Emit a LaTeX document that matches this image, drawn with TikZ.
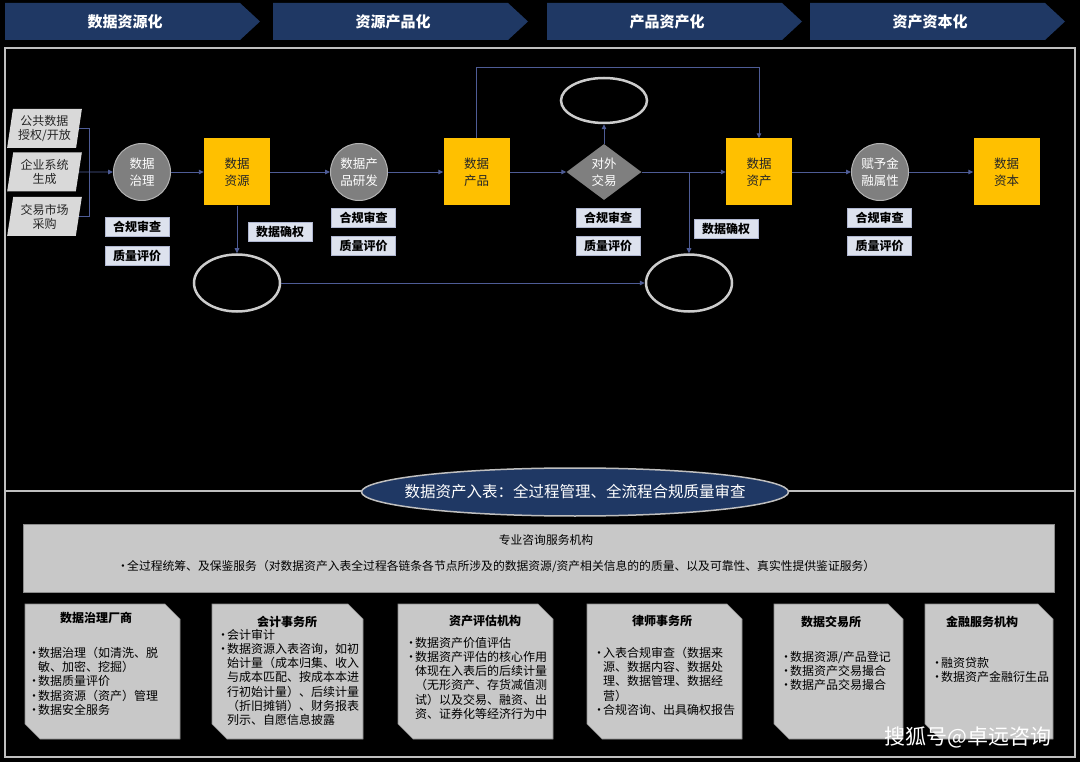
\documentclass[tikz,border=0pt]{standalone}
\usepackage{fontspec}
\setmainfont{Noto Sans CJK SC}
\usepackage{tikz}
\usetikzlibrary{arrows.meta,positioning,calc,shapes.geometric}

\definecolor{bannerblau}{RGB}{31,56,100}
\definecolor{rahmen}{RGB}{191,191,191}
\definecolor{gelb}{RGB}{255,192,0}
\definecolor{kreisgrau}{RGB}{127,127,127}
\definecolor{etikett}{RGB}{221,226,238}
\definecolor{linie}{RGB}{78,92,150}
\definecolor{eingang}{RGB}{217,217,217}
\definecolor{kastengrau}{RGB}{200,200,200}

\newcommand{\bul}{\makebox[10pt][l]{\textbullet}}
\newcommand{\einr}{\hspace*{10pt}}

\begin{document}
\begin{tikzpicture}[x=1pt, y=-1pt,
        every node/.style={font=\fontsize{12}{14.2}\selectfont},
        bannertext/.style={font=\fontsize{15}{18}\selectfont\bfseries, text=white},
        rahmenlinie/.style={draw=rahmen, line width=2.5pt},
        flow/.style={draw=linie, line width=0.9pt},
        flowpfeil/.style={flow, -{Triangle[length=5pt,width=4.5pt]}},
        eingabe/.style={trapezium, trapezium left angle=80, trapezium right angle=100,
          trapezium stretches=true, minimum width=75pt, minimum height=39pt,
          fill=eingang, inner sep=1pt, align=center, text=black!85},
        prozess/.style={circle, fill=kreisgrau, draw=kreisgrau!60!white, line width=1pt,
          minimum size=57pt, inner sep=0pt, align=center, text=white,
          font=\fontsize{12.5}{17}\selectfont},
        objekt/.style={rectangle, fill=gelb, minimum width=66pt, minimum height=67pt,
          align=center, text=black!85, font=\fontsize{12.5}{17}\selectfont},
        raute/.style={diamond, fill=kreisgrau, minimum width=75pt, minimum height=56pt,
          inner sep=0pt, align=center, text=white, font=\fontsize{12.5}{17}\selectfont},
        pruefbox/.style={rectangle, fill=etikett, draw=linie!45!white, minimum width=64pt,
          minimum height=19pt, inner sep=0pt, text=black, font=\fontsize{12}{14}\selectfont\bfseries},
        leer/.style={ellipse, draw=rahmen!80!white, line width=2.5pt, minimum width=86pt,
          minimum height=57pt},
        kastenstil/.style={fill=kastengrau, draw=kastengrau!70!black, line width=0.6pt},
        kastentitel/.style={font=\fontsize{12}{14.2}\selectfont\bfseries, text=black},
        liste/.style={anchor=north west, inner sep=0pt, align=left, text=black}
      ]
        \useasboundingbox (0,0) rectangle (1080,762);
        \fill[black] (0,0) rectangle (1080,762);

        % Phasen-Banner
        \foreach \x/\t [count=\i] in {5/数据资源化, 273/资源产品化, 547/产品资产化, 810/资产资本化} {
          \fill[bannerblau] (\x,3) -- ++(235,0) -- ++(20,18.5) -- ++(-20,18.5) -- ++(-235,0) -- cycle;
          \node[bannertext] (ban\i) at (\x+120,21.5) {\t};
        }

        % Rahmen
        \draw[rahmenlinie] (5,48) rectangle (1075,491);
        \draw[rahmenlinie] (5,491) rectangle (1075,757);

        % Datenquellen
        \node[eingabe] (in1) at (44.5,128.5) {公共数据\\授权/开放};
        \node[eingabe] (in2) at (44.5,172) {企业系统\\生成};
        \node[eingabe] (in3) at (44.5,216.5) {交易市场\\采购};
        \coordinate (brk) at (89,172);

        % Prozesskette
        \node[prozess] (zl)  at (142,172) {数据\\治理};
        \node[objekt]  (res) at (237,172) {数据\\资源};
        \node[prozess] (fe)  at (359,172) {数据产\\品研发};
        \node[objekt]  (prod) at (476.5,172) {数据\\产品};
        \node[raute]   (handel) at (604,172) {对外\\交易};
        \node[objekt]  (anl) at (759,172) {数据\\资产};
        \node[prozess] (fin) at (880,172) {赋予金\\融属性};
        \node[objekt]  (kap) at (1006.5,172) {数据\\资本};

        % leere Ellipsen
        \node[leer] (e1) at (237,283) {};
        \node[leer] (e2) at (689,283) {};
        \node[leer, minimum height=45pt] (e3) at (604,100.5) {};

        % Pruefungen
        \node[pruefbox] (hg1) at (137,227) {合规审查};
        \node[pruefbox] (zp1) at (137,255.5) {质量评价};
        \node[pruefbox] (hg2) at (363.5,218) {合规审查};
        \node[pruefbox] (zp2) at (363.5,246) {质量评价};
        \node[pruefbox] (hg3) at (608,218) {合规审查};
        \node[pruefbox] (zp3) at (608,246) {质量评价};
        \node[pruefbox] (hg4) at (879.5,217.5) {合规审查};
        \node[pruefbox] (zp4) at (879.5,246) {质量评价};
        \node[pruefbox] (qr1) at (280,231.5) {数据确权};
        \node[pruefbox] (qr2) at (726,228.5) {数据确权};

        % Verbindungen
        \draw[flow] (in1.east) -- (in1.east -| brk) -- (in3.east -| brk) -- (in3.east);
        \draw[flowpfeil] (in2.east) -- (zl.west);
        \draw[flowpfeil] (zl) -- (res);
        \draw[flowpfeil] (res) -- (fe);
        \draw[flowpfeil] (fe) -- (prod);
        \draw[flowpfeil] (prod) -- (handel);
        \draw[flowpfeil] (handel) -- (anl);
        \draw[flowpfeil] (anl) -- (fin);
        \draw[flowpfeil] (fin) -- (kap);
        \draw[flowpfeil] (handel.north) -- (e3.south);
        \coordinate (oben) at (0,67);
        \draw[flowpfeil] (prod.north) -- (prod.north |- oben) -| (anl.north);
        \draw[flowpfeil] (res.south) -- (e1.north);
        \draw[flowpfeil] (e1.east) -- (e2.west);
        \coordinate (abzw) at (e2.north |- handel.east);
        \draw[flowpfeil] (abzw) -- (e2.north);

        % Dateneintrag
        \node[ellipse, fill=bannerblau, draw=rahmen, line width=1.5pt, minimum width=427pt,
          minimum height=48pt, inner sep=0pt] (eintrag) at (575,492) {};
        \node[text=white, font=\fontsize{15.5}{18}\selectfont] (eintragtext) at (eintrag)
          {数据资产入表：全过程管理、全流程合规质量审查};

        % Beratung
        \node[kastenstil, rectangle, minimum width=1031pt, minimum height=68pt] (berat) at (538.5,558) {};
        \node[text=black, font=\fontsize{11.8}{14}\selectfont] (berattitel) at (546,540) {专业咨询服务机构};
        \node[anchor=west, inner sep=0pt, text=black, font=\fontsize{11.8}{14}\selectfont] (beratliste) at (117,567)
          {\bul 全过程统筹、及保鉴服务（对数据资产入表全过程各链条各节点所涉及的数据资源/资产相关信息的的质量、以及可靠性、真实性提供鉴证服务）};

        % Dienstleister
        \foreach \xa/\xb in {25/180, 212/363, 398/553, 587/742, 774/903, 925/1053} {
          \draw[kastenstil] (\xa,604) -- (\xb-15,604) -- (\xb,619) -- (\xb,739) -- (\xa+15,739) -- (\xa,724) -- cycle;
        }
        \node[kastentitel] (t1) at (96,618) {数据治理厂商};
        \node[kastentitel] (t2) at (287,622) {会计事务所};
        \node[kastentitel] (t3) at (485,621) {资产评估机构};
        \node[kastentitel] (t4) at (662,621) {律师事务所};
        \node[kastentitel] (t5) at (831,622) {数据交易所};
        \node[kastentitel] (t6) at (982,622) {金融服务机构};

        \node[liste] (l1) at (28,647) {\bul 数据治理（如清洗、脱\\\einr 敏、加密、挖掘）\\\bul 数据质量评价\\\bul 数据资源（资产）管理\\\bul 数据安全服务};
        \node[liste] (l2) at (217,629) {\bul 会计审计\\\bul 数据资源入表咨询，如初\\\einr 始计量（成本归集、收入\\\einr 与成本匹配、按成本本进\\\einr 行初始计量）、后续计量\\\einr （折旧摊销）、财务报表\\\einr 列示、自愿信息披露};
        \node[liste] (l3) at (405,637) {\bul 数据资产价值评估\\\bul 数据资产评估的核心作用\\\einr 体现在入表后的后续计量\\\einr （无形资产、存货减值测\\\einr 试）以及交易、融资、出\\\einr 资、证券化等经济行为中};
        \node[liste] (l4) at (593,647) {\bul 入表合规审查（数据来\\\einr 源、数据内容、数据处\\\einr 理、数据管理、数据经\\\einr 营）\\\bul 合规咨询、出具确权报告};
        \node[liste] (l5) at (780,651) {\bul 数据资源/产品登记\\\bul 数据资产交易撮合\\\bul 数据产品交易撮合};
        \node[liste] (l6) at (931,657) {\bul 融资贷款\\\bul 数据资产金融衍生品};

        % Wasserzeichen
        \node[text=white, font=\fontsize{21}{24}\selectfont] (wz) at (968,737) {搜狐号@卓远咨询};
      \end{tikzpicture}
\end{document}
